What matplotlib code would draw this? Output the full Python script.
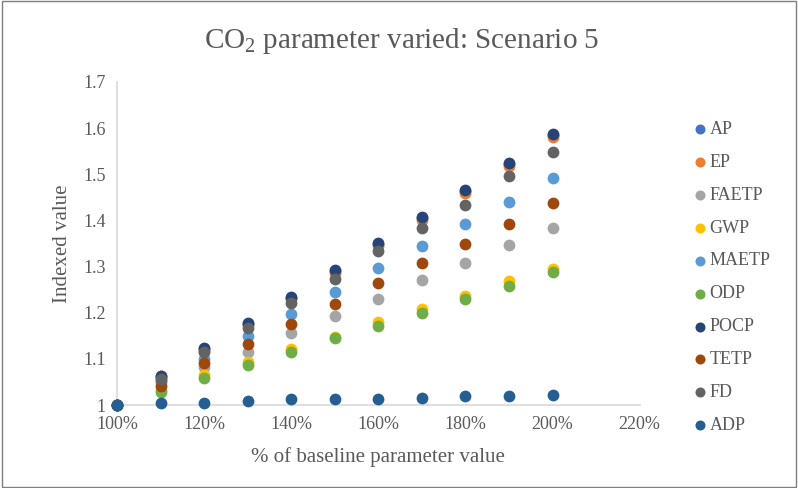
import numpy as np
import matplotlib
matplotlib.use('Agg')
import matplotlib.pyplot as plt
from matplotlib.patches import Rectangle

plt.rcParams['font.family'] = ['Liberation Serif', 'DejaVu Serif']
plt.rcParams['mathtext.fontset'] = 'custom'
plt.rcParams['mathtext.rm'] = 'Liberation Serif'
plt.rcParams['mathtext.it'] = 'Liberation Serif:italic'

# % of baseline parameter value
x_pct = [100, 110, 120, 130, 140, 150, 160, 170, 180, 190, 200]

# indexed values
ap    = [1.0, 1.061, 1.121, 1.176, 1.233, 1.291, 1.349, 1.406, 1.463, 1.523, 1.586]
ep    = [1.0, 1.064, 1.118, 1.173, 1.230, 1.287, 1.345, 1.402, 1.459, 1.519, 1.580]
faetp = [1.0, 1.050, 1.083, 1.116, 1.156, 1.193, 1.230, 1.270, 1.307, 1.347, 1.384]
gwp   = [1.0, 1.033, 1.065, 1.094, 1.121, 1.147, 1.181, 1.208, 1.237, 1.268, 1.295]
maetp = [1.0, 1.052, 1.100, 1.150, 1.198, 1.246, 1.297, 1.344, 1.393, 1.440, 1.491]
odp   = [1.0, 1.028, 1.059, 1.086, 1.116, 1.146, 1.172, 1.199, 1.230, 1.257, 1.288]
pocp  = [1.0, 1.062, 1.123, 1.178, 1.235, 1.293, 1.351, 1.408, 1.465, 1.525, 1.588]
tetp  = [1.0, 1.041, 1.091, 1.133, 1.176, 1.220, 1.264, 1.307, 1.350, 1.393, 1.437]
fd    = [1.0, 1.056, 1.115, 1.167, 1.221, 1.273, 1.333, 1.384, 1.433, 1.497, 1.548]
adp   = [1.0, 1.005, 1.005, 1.009, 1.013, 1.013, 1.013, 1.016, 1.020, 1.020, 1.022]

labels = ['AP', 'EP', 'FAETP', 'GWP', 'MAETP', 'ODP', 'POCP', 'TETP', 'FD', 'ADP']
series = [ap, ep, faetp, gwp, maetp, odp, pocp, tetp, fd, adp]
colors = ['#4472C4', '#ED7D31', '#A5A5A5', '#FFC000', '#5B9BD5',
          '#70AD47', '#264478', '#9E480E', '#636363', '#255E91']

txt = '#595959'

fig = plt.figure(figsize=(7.98, 4.88), dpi=100)
ax = fig.add_axes([0.1466, 0.170, 0.655, 0.662])

for lab, ys, c in zip(labels, series, colors):
    ax.scatter(np.array(x_pct) / 100, ys, s=72, color=c, label=lab,
               linewidths=0, zorder=3, clip_on=False)

ax.set_xlim(1.0, 2.2)
ax.set_ylim(1.0, 1.7)
ax.set_xticks(np.arange(1.0, 2.21, 0.2))
ax.set_xticklabels([f'{int(round(v * 100))}%' for v in np.arange(1.0, 2.21, 0.2)])
ax.set_yticks(np.arange(1.0, 1.71, 0.1))
ax.set_yticklabels(['1'] + [f'{v:.1f}' for v in np.arange(1.1, 1.71, 0.1)])
ax.tick_params(length=0, labelsize=13, colors=txt, pad=8)

for s in ['top', 'right']:
    ax.spines[s].set_visible(False)
for s in ['left', 'bottom']:
    ax.spines[s].set_color('#D9D9D9')
    ax.spines[s].set_linewidth(1.2)

ax.set_xlabel('% of baseline parameter value', fontsize=15, color=txt, labelpad=10)
ax.set_ylabel('Indexed value', fontsize=15, color=txt, labelpad=8)
fig.text(0.503, 0.917, 'CO$_2$ parameter varied: Scenario 5', ha='center', va='center',
         fontsize=21, color=txt)

leg = ax.legend(loc='upper left', bbox_to_anchor=(0.855, 0.767),
                bbox_transform=fig.transFigure, frameon=False, fontsize=13,
                labelspacing=0.88, handletextpad=-0.1, markerscale=0.85,
                borderaxespad=0, handlelength=1.2)
for t in leg.get_texts():
    t.set_color(txt)

fig.patches.append(Rectangle((0.002, 0.002), 0.996, 0.996, transform=fig.transFigure,
                             fill=False, edgecolor='#7F7F7F', linewidth=1.0))

fig.savefig('out.png', dpi=100)
